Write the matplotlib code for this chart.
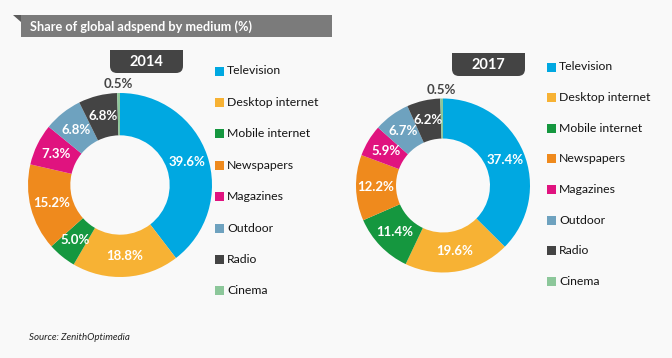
import numpy as np
import matplotlib.pyplot as plt
from matplotlib.patches import Rectangle, Polygon, FancyBboxPatch

# data
mediums = ['Television', 'Desktop internet', 'Mobile internet', 'Newspapers',
           'Magazines', 'Outdoor', 'Radio', 'Cinema']
share_2014 = [39.6, 18.8, 5.0, 15.2, 7.3, 6.8, 6.8, 0.5]
share_2017 = [37.4, 19.6, 11.4, 12.2, 5.9, 6.7, 6.2, 0.5]
colors = ['#00a8e1', '#f7b234', '#15973f', '#ef8a1d',
          '#e0137f', '#6ea2bf', '#444444', '#8cc79a']

plt.rcParams['font.family'] = ['Lato', 'DejaVu Sans']

W, H = 672, 358
fig = plt.figure(figsize=(W / 100, H / 100), dpi=100)
fig.patch.set_facecolor('#f9f9f9')

# overlay axes in pixel units for the decorations
bg = fig.add_axes([0, 0, 1, 1])
bg.set_xlim(0, W)
bg.set_ylim(H, 0)
bg.axis('off')

# title banner
bg.add_patch(Rectangle((21, 15), 311, 22, color='#7b7b7b', lw=0))
bg.add_patch(Polygon([(13, 15), (21, 15), (21, 22)], closed=True,
                     color='#5c5c5c', lw=0))
bg.text(30, 26.5, 'Share of global adspend by medium (%)', color='white',
        fontweight='bold', fontsize=9.2, ha='left', va='center')

bg.text(29, 338, 'Source: ZenithOptimedia', fontstyle='italic', fontsize=7,
        color='#222222', ha='left', va='center')


def donut(year, values, cx, cy, r, box_x, box_y, leg_x, leg_y0, leg_dy):
    # year tab
    bw, bh = 73, 23
    bg.add_patch(FancyBboxPatch((box_x, box_y), bw, bh,
                                boxstyle='round,pad=0,rounding_size=7',
                                color='#444444', lw=0))
    bg.add_patch(Rectangle((box_x, box_y), bw, bh / 2, color='#444444', lw=0))
    bg.text(box_x + bw / 2, box_y + bh / 2 + 0.5, year, color='white',
            fontweight='bold', fontsize=10.5, ha='center', va='center')

    # ring
    ax = fig.add_axes([(cx - 1.1 * r) / W, (H - cy - 1.1 * r) / H,
                       2.2 * r / W, 2.2 * r / H])
    wedges, _ = ax.pie(values, colors=colors, startangle=90,
                       counterclock=False, radius=1,
                       wedgeprops=dict(width=0.46, linewidth=0))
    ax.set_xlim(-1.1, 1.1)
    ax.set_ylim(-1.1, 1.1)
    ax.set_aspect('equal')

    for w, v in zip(wedges, values):
        ang = np.deg2rad((w.theta1 + w.theta2) / 2)
        if v < 1:
            rr, col = 1.1, '#444444'
        else:
            rr, col = 0.77, 'white'
        ax.text(rr * np.cos(ang), rr * np.sin(ang), f'{v:.1f}%', color=col,
                fontweight='bold', fontsize=9.5, ha='center', va='center')

    # legend
    for i, (m, c) in enumerate(zip(mediums, colors)):
        y = leg_y0 + i * leg_dy
        bg.add_patch(Rectangle((leg_x, y - 4.5), 9, 9, color=c, lw=0))
        bg.text(leg_x + 12, y, m, fontsize=8.8, color='#151515',
                ha='left', va='center')


donut('2014', share_2014, 120, 185, 92, 110, 50, 215, 71, 31.4)
donut('2017', share_2017, 443, 185.5, 87, 452, 53, 547, 67, 30.6)

plt.savefig('out.png', dpi=100, facecolor=fig.get_facecolor())
